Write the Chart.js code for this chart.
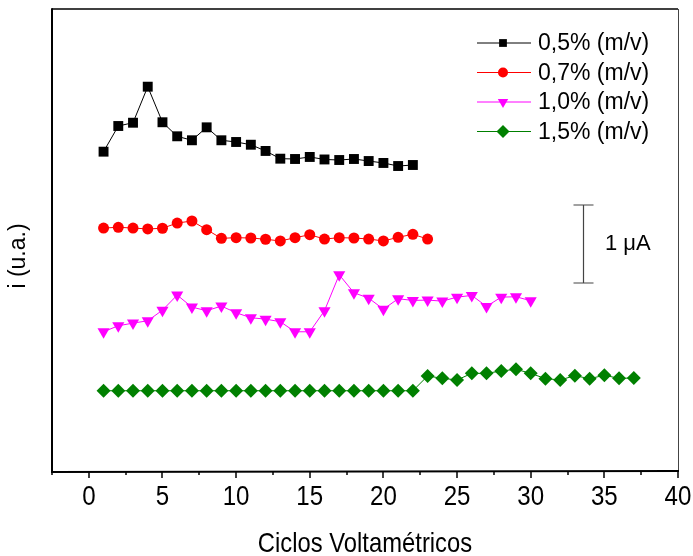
<!DOCTYPE html>
<html><head><meta charset="utf-8">
<script src="https://cdn.jsdelivr.net/npm/chart.js@4/dist/chart.umd.min.js"></script>
<style>html,body{margin:0;padding:0;background:#fff;} canvas{display:block;}</style>
</head><body>
<canvas id="c" width="693" height="556"></canvas>
<script>
// ---- data (current in arbitrary µA-scaled units) ----
const seriesLabels = ['0,5% (m/v)', '0,7% (m/v)', '1,0% (m/v)', '1,5% (m/v)'];
const s05 = [4.094, 4.423, 4.465, 4.927, 4.471, 4.291, 4.240, 4.406, 4.240, 4.218, 4.183,
             4.103, 4.004, 4.000, 4.026, 3.994, 3.987, 4.000, 3.974, 3.949, 3.910, 3.923];
const s07 = [3.115, 3.124, 3.115, 3.103, 3.112, 3.179, 3.205, 3.094, 2.983, 2.991, 2.987, 2.971,
             2.949, 2.991, 3.029, 2.974, 2.991, 2.987, 2.974, 2.949, 2.996, 3.035, 2.974];
const s10 = [1.785, 1.862, 1.896, 1.926, 2.062, 2.255, 2.101, 2.055, 2.114, 2.029, 1.965, 1.947,
             1.914, 1.785, 1.785, 2.055, 2.516, 2.285, 2.216, 2.075, 2.208, 2.187, 2.191, 2.178,
             2.229, 2.251, 2.110, 2.229, 2.234, 2.183];
const s15 = [1.029, 1.029, 1.029, 1.029, 1.029, 1.029, 1.029, 1.029, 1.029, 1.029, 1.029, 1.029,
             1.029, 1.029, 1.029, 1.029, 1.029, 1.029, 1.029, 1.029, 1.029, 1.029, 1.218, 1.188,
             1.167, 1.252, 1.252, 1.282, 1.304, 1.252, 1.184, 1.167, 1.222, 1.184, 1.227, 1.188, 1.192];
const xTickLabels = [0, 5, 10, 15, 20, 25, 30, 35, 40];
const xTitle = 'Ciclos Voltamétricos';
const yTitle = 'i (u.a.)';
const scaleBarLabel = '1 μA';

function toPoints(arr) { return arr.map((v, i) => ({ x: i + 1, y: v })); }

const colors = ['#000000', '#ff0000', '#ff00ff', '#008000'];
const styles = ['rect', 'circle', 'triangle', 'rectRot'];
const rotations = [0, 0, 180, 0];
const radii = [7, 5.5, 7, 7];
const legendRadii = [5.5, 5, 6, 6.5];
const allSeries = [s05, s07, s10, s15];

const datasets = allSeries.map((s, i) => ({
  label: seriesLabels[i],
  data: toPoints(s),
  borderColor: colors[i],
  backgroundColor: colors[i],
  borderWidth: 1,
  pointStyle: styles[i],
  pointRotation: rotations[i],
  pointRadius: radii[i],
  pointBorderWidth: 0,
  pointBackgroundColor: colors[i],
  pointBorderColor: colors[i],
  tension: 0,
  fill: false
}));

function drawMarker(ctx, style, x, y, r, rot, color) {
  ctx.save();
  ctx.fillStyle = color;
  ctx.beginPath();
  if (style === 'rect') {
    const s = r * Math.SQRT1_2;
    ctx.rect(x - s, y - s, 2 * s, 2 * s);
  } else if (style === 'circle') {
    ctx.arc(x, y, r, 0, Math.PI * 2);
  } else if (style === 'triangle') {
    const a0 = (rot - 90) * Math.PI / 180;
    for (let k = 0; k < 3; k++) {
      const a = a0 + k * 2 * Math.PI / 3;
      const px = x + Math.cos(a) * r, py = y + Math.sin(a) * r;
      if (k === 0) ctx.moveTo(px, py); else ctx.lineTo(px, py);
    }
    ctx.closePath();
  } else if (style === 'rectRot') {
    ctx.moveTo(x, y - r); ctx.lineTo(x + r, y); ctx.lineTo(x, y + r); ctx.lineTo(x - r, y);
    ctx.closePath();
  }
  ctx.fill();
  ctx.restore();
}

function narrowText(ctx, text, x, y, sx) {
  ctx.save();
  ctx.translate(x, y);
  ctx.scale(sx, 1);
  ctx.fillText(text, 0, 0);
  ctx.restore();
}

const overlay = {
  id: 'overlay',
  afterDraw(chart) {
    const ctx = chart.ctx, a = chart.chartArea, xs = chart.scales.x, ys = chart.scales.y;
    ctx.save();
    // frame
    ctx.lineCap = 'butt';
    ctx.strokeStyle = '#000';
    ctx.lineWidth = 1.5;
    ctx.beginPath(); ctx.moveTo(a.left, a.top); ctx.lineTo(a.right, a.top); ctx.stroke();
    ctx.strokeStyle = '#444';
    ctx.lineWidth = 1;
    ctx.beginPath(); ctx.moveTo(a.right + 0.5, a.top); ctx.lineTo(a.right + 0.5, a.bottom); ctx.stroke();
    ctx.strokeStyle = '#000';
    ctx.lineWidth = 2;
    ctx.beginPath(); ctx.moveTo(a.left, a.top - 0.75); ctx.lineTo(a.left, a.bottom + 1); ctx.lineTo(a.right + 1, a.bottom); ctx.stroke();
    // x ticks (major + minor)
    ctx.lineWidth = 1.5;
    for (let v = xs.min; v <= xs.max + 1e-9; v += 2.5) {
      const px = Math.round(xs.getPixelForValue(v));
      const major = Math.abs(v % 5) < 1e-9;
      ctx.beginPath(); ctx.moveTo(px, a.bottom); ctx.lineTo(px, a.bottom + (major ? 7 : 4)); ctx.stroke();
    }
    // x tick labels (condensed look)
    ctx.fillStyle = '#000';
    ctx.font = '28px "Liberation Sans", Arial, sans-serif';
    ctx.textAlign = 'center';
    ctx.textBaseline = 'middle';
    xTickLabels.forEach(v => {
      narrowText(ctx, String(v), xs.getPixelForValue(v), a.bottom + 26, 0.86);
    });
    // x title
    narrowText(ctx, xTitle, (a.left + a.right) / 2, 544, 0.85);
    // y title
    ctx.save();
    ctx.translate(19, 256);
    ctx.rotate(-Math.PI / 2);
    ctx.font = '23px "Liberation Sans", Arial, sans-serif';
    ctx.textAlign = 'center';
    ctx.textBaseline = 'middle';
    ctx.fillText(yTitle, 0, 0);
    ctx.restore();
    // legend
    const rowY = [43, 72.5, 102, 131.5];
    chart.data.datasets.forEach((ds, i) => {
      const y = rowY[i];
      ctx.strokeStyle = ds.borderColor;
      ctx.lineWidth = 1;
      ctx.beginPath(); ctx.moveTo(477, y); ctx.lineTo(531, y); ctx.stroke();
      drawMarker(ctx, ds.pointStyle, 503, y, legendRadii[i], ds.pointRotation, ds.backgroundColor);
      ctx.fillStyle = '#000';
      ctx.font = '23px "Liberation Sans", Arial, sans-serif';
      ctx.textAlign = 'left';
      ctx.textBaseline = 'middle';
      ctx.fillText(ds.label, 538, y + 1);
    });
    // scale bar (1 µA)
    const bx = Math.round(xs.getPixelForValue(33.55)) + 0.5;
    const y0 = ys.getPixelForValue(2.41), y1 = ys.getPixelForValue(3.41);
    ctx.strokeStyle = '#444';
    ctx.lineWidth = 1.2;
    ctx.beginPath();
    ctx.moveTo(bx, y0); ctx.lineTo(bx, y1);
    ctx.moveTo(bx - 10, y0); ctx.lineTo(bx + 10, y0);
    ctx.moveTo(bx - 10, y1); ctx.lineTo(bx + 10, y1);
    ctx.stroke();
    ctx.fillStyle = '#000';
    ctx.font = '22px "Liberation Sans", Arial, sans-serif';
    ctx.textAlign = 'left';
    ctx.textBaseline = 'middle';
    ctx.fillText(scaleBarLabel, 605, (y0 + y1) / 2);
    ctx.restore();
  }
};

new Chart(document.getElementById('c'), {
  type: 'line',
  data: { datasets },
  options: {
    responsive: false,
    animation: false,
    devicePixelRatio: 1,
    layout: { padding: { left: 52, top: 9, right: 15, bottom: 85 } },
    plugins: { legend: { display: false }, tooltip: { enabled: false } },
    scales: {
      x: {
        type: 'linear',
        min: -2.5,
        max: 40,
        display: false
      },
      y: {
        display: false,
        min: 0,
        max: 5.923
      }
    }
  },
  plugins: [overlay]
});
</script>
</body></html>
